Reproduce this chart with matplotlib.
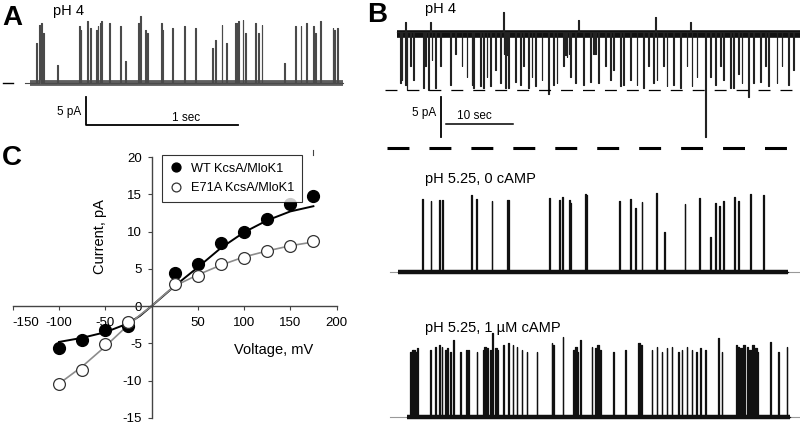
import numpy as np
import matplotlib
matplotlib.use('Agg')
import matplotlib.pyplot as plt

plt.rcParams['font.family'] = ['Liberation Sans', 'DejaVu Sans']
plt.rcParams['axes.unicode_minus'] = False
plt.rcParams['lines.scale_dashes'] = False

# ---------------- data ----------------
# Panel A: single channel openings at pH 4 (time in s, amplitude in pA)
a_times = [0.039, 0.061, 0.072, 0.083, 0.180, 0.322, 0.333, 0.377, 0.395, 0.434,
           0.445, 0.461, 0.467, 0.520, 0.592, 0.625, 0.713, 0.724, 0.757, 0.768,
           0.862, 0.871, 0.936, 1.015, 1.086, 1.200, 1.217, 1.261, 1.289, 1.349,
           1.360, 1.371, 1.399, 1.414, 1.480, 1.502, 1.524, 1.673, 1.743, 1.781,
           1.816, 1.864, 1.875, 1.908, 1.991, 2.002, 2.022]
a_amps = [7.1, 10.4, 10.8, 8.9, 3.3, 10.1, 9.5, 11.0, 9.8, 9.5,
          10.1, 10.7, 11.0, 10.7, 10.1, 3.9, 10.7, 11.9, 9.5, 8.9,
          10.7, 9.5, 9.8, 10.1, 9.8, 6.25, 7.7, 10.4, 7.1, 10.7,
          10.7, 11.0, 11.3, 8.9, 10.7, 8.9, 10.4, 3.6, 10.1, 10.1,
          10.7, 10.1, 8.9, 11.0, 9.8, 9.5, 9.8]
a_durs = [0.010, 0.010, 0.010, 0.010, 0.004, 0.005, 0.005, 0.005, 0.005, 0.005,
          0.005, 0.005, 0.005, 0.005, 0.005, 0.004, 0.007, 0.007, 0.007, 0.007,
          0.005, 0.005, 0.005, 0.005, 0.005, 0.004, 0.005, 0.005, 0.005, 0.005,
          0.005, 0.005, 0.005, 0.005, 0.005, 0.005, 0.005, 0.004, 0.005, 0.005,
          0.005, 0.005, 0.005, 0.005, 0.005, 0.005, 0.005]

# Panel B top: pH 4, long recording (openings point downward)
b1_times = [0.45, 0.70, 1.19, 1.44, 1.94, 2.44, 3.93, 4.18, 4.68, 5.17,
            5.67, 6.42, 7.91, 8.66, 9.65, 10.40, 11.14, 11.39, 12.39, 12.89,
            13.38, 13.88, 14.63, 15.37, 15.90, 16.12, 16.40, 16.62, 17.61, 18.36,
            18.86, 19.60, 20.10, 20.60, 21.59, 22.59, 23.33, 23.83, 24.83, 25.10,
            25.32, 25.60, 25.82, 26.57, 27.81, 28.81, 29.30, 29.55, 30.05, 31.04,
            31.79, 32.29, 33.28, 33.78, 34.78, 35.77, 36.77, 37.51, 38.26, 38.76,
            39.75, 40.25, 41.24, 42.24, 43.23, 43.98, 44.73, 45.97, 46.72, 47.46,
            48.21, 48.71, 49.70, 50.20, 50.95, 51.44, 52.44, 53.18, 54.18, 54.93,
            55.42, 56.67, 57.41, 58.41, 59.15]
b1_amps = [-6.4, -6.0, -6.6, -7.3, -4.3, -6.0, -7.0, -4.3, -7.3, -3.5,
           -7.0, -4.3, -6.6, -2.7, -4.3, -5.6, -6.6, -7.0, -6.8, -7.0,
           -5.6, -6.8, -4.8, -6.4, -2.7, -7.0, -2.9, -7.0, -6.2, -6.6,
           -4.3, -7.0, -5.6, -6.8, -6.0, -7.7, -6.6, -6.4, -4.3, -2.9,
           -3.1, -2.8, -5.6, -6.4, -6.6, -6.2, -2.7, -2.7, -6.4, -4.3,
           -6.0, -4.8, -6.8, -6.6, -6.0, -6.6, -7.0, -4.3, -6.4, -6.0,
           -4.3, -6.8, -6.6, -7.0, -4.3, -6.8, -5.6, -13.1, -5.6, -6.6,
           -4.3, -6.0, -7.0, -7.0, -5.2, -6.4, -8.1, -6.4, -6.2, -4.3,
           -6.8, -6.4, -4.3, -6.6, -4.8]
b1_up_times = [1.19, 4.93, 15.87, 27.06, 38.51, 43.73]
b1_up_amps = [1.3, 1.3, 2.5, 1.5, 1.9, 1.2]

# Panel B middle: pH 5.25, 0 cAMP
b2_times = [3.78, 5.02, 6.27, 6.67, 10.99, 11.79, 14.13, 16.47, 22.69, 24.23,
            24.68, 25.67, 25.87, 28.06, 28.16, 33.13, 34.78, 35.57, 36.52, 38.66,
            39.90, 42.94, 45.07, 46.72, 47.51, 48.11, 48.71, 50.35, 50.95, 52.74,
            54.58]
b2_amps = [9.04, 8.83, 8.96, 8.96, 9.58, 9.04, 8.83, 8.96, 9.17, 8.96,
           9.29, 8.96, 8.63, 9.71, 9.58, 8.83, 9.08, 7.92, 8.71, 9.88,
           5.0, 8.46, 9.17, 4.38, 8.63, 8.21, 8.83, 9.38, 8.83, 9.71,
           9.58]
b2_durs = [0.1, 0.1, 0.1, 0.15, 0.15, 0.2, 0.1, 0.25, 0.2, 0.1,
           0.1, 0.1, 0.1, 0.15, 0.15, 0.1, 0.2, 0.08, 0.1, 0.1,
           0.08, 0.1, 0.2, 0.08, 0.1, 0.1, 0.15, 0.1, 0.1, 0.1,
           0.25]

# Panel B bottom: pH 5.25, 1 uM cAMP
b3_times = [1.94, 2.19, 2.44, 2.69, 2.94, 4.93, 5.67, 6.32, 6.67, 7.16,
            7.41, 7.91, 8.41, 9.40, 10.30, 10.65, 11.89, 12.78, 13.03, 13.28,
            13.88, 14.23, 14.63, 14.88, 15.87, 16.62, 17.26, 17.86, 18.61, 19.35,
            20.85, 23.08, 23.33, 24.73, 26.32, 26.57, 26.82, 27.31, 29.05, 29.55,
            29.90, 30.20, 32.29, 34.03, 36.02, 36.27, 38.01, 38.76, 39.50, 40.25,
            40.99, 41.99, 42.49, 43.23, 43.98, 44.63, 45.22, 45.97, 47.96, 48.46,
            50.55, 50.80, 51.19, 51.69, 52.19, 52.59, 52.94, 53.43, 53.68, 55.67,
            56.92, 58.16]
b3_amps = [8.13, 8.33, 8.33, 8.13, 8.54, 8.33, 8.75, 8.96, 8.75, 8.33,
           8.54, 8.13, 9.58, 8.13, 8.33, 8.33, 8.13, 8.33, 8.75, 8.54,
           8.33, 10.42, 8.54, 8.33, 8.96, 9.17, 8.96, 8.75, 8.33, 8.13,
           8.13, 9.17, 8.96, 10.0, 8.33, 8.75, 8.13, 9.58, 8.75, 8.54,
           8.96, 8.33, 8.13, 8.33, 9.17, 8.96, 8.33, 8.75, 8.13, 8.54,
           8.75, 8.13, 8.33, 8.75, 8.33, 8.13, 8.54, 8.33, 9.79, 8.13,
           8.96, 8.75, 8.54, 8.96, 8.75, 8.33, 8.96, 8.54, 8.13, 9.38,
           8.13, 8.75]
b3_durs = [0.26, 0.26, 0.26, 0.26, 0.2, 0.1, 0.1, 0.15, 0.1, 0.26,
           0.2, 0.1, 0.1, 0.1, 0.1, 0.1, 0.1, 0.26, 0.26, 0.26,
           0.1, 0.08, 0.26, 0.2, 0.1, 0.1, 0.1, 0.1, 0.1, 0.1,
           0.1, 0.1, 0.1, 0.1, 0.26, 0.26, 0.2, 0.1, 0.1, 0.26,
           0.3, 0.26, 0.1, 0.1, 0.26, 0.26, 0.1, 0.1, 0.1, 0.1,
           0.1, 0.1, 0.1, 0.1, 0.1, 0.1, 0.1, 0.1, 0.1, 0.1,
           0.26, 0.26, 0.3, 0.3, 0.26, 0.26, 0.3, 0.26, 0.2, 0.1,
           0.1, 0.1]

# Panel C: I-V relations
voltage = [-100, -75, -50, -25, 25, 50, 75, 100, 125, 150, 175]
wt_current = [-5.6, -4.6, -3.2, -2.6, 4.4, 5.6, 8.5, 10.0, 11.7, 13.7, 14.8]
e71a_current = [-10.5, -8.6, -5.1, -2.1, 3.0, 4.1, 5.6, 6.5, 7.4, 8.0, 8.7]
fit_v = [-100, -75, -50, -25, -12.5, 0, 12.5, 25, 50, 75, 100, 125, 150, 175]
wt_fit = [-4.8, -4.25, -3.5, -2.3, -1.3, 0.0, 1.35, 2.7, 5.2, 7.8, 9.9, 11.5, 12.7, 13.4]
e71a_fit = [-10.4, -8.1, -5.4, -2.5, -1.2, 0.0, 1.4, 2.7, 4.2, 5.5, 6.6, 7.4, 8.1, 8.6]

W, H = 800, 428
fig = plt.figure(figsize=(W / 100, H / 100), dpi=100)


def px_axes(x0, y0, x1, y1):
    ax = fig.add_axes([x0 / W, 1 - y1 / H, (x1 - x0) / W, (y1 - y0) / H])
    ax.set_axis_off()
    return ax


def fx(px):
    return px / W


def fy(py):
    return 1 - py / H


def step_trace(times, amps, durs, t0, t1):
    xs, ys = [t0], [0.0]
    for t, a, d in sorted(zip(times, amps, durs)):
        xs += [t, t, t + d, t + d]
        ys += [0.0, a, a, 0.0]
    xs.append(t1)
    ys.append(0.0)
    return np.array(xs), np.array(ys)


def draw_trace(ax, xs, ys, color, lw):
    ax.fill_between(xs, 0, ys, color=color, lw=0, clip_on=False)
    ax.plot(xs, ys, color=color, lw=lw, clip_on=False)


# ---------------- Panel A ----------------
axA = px_axes(30, 0, 343, 135)
axA.set_xlim(0, 313 / 152)
axA.set_ylim(-52 / 5.6, 83 / 5.6)
xa, ya = step_trace(a_times, a_amps, a_durs, -0.03, 2.06)
axA.plot([-0.03, 2.06], [0, 0], color='#5f5f5f', lw=4.2, solid_capstyle='butt')
draw_trace(axA, xa, ya, '#4a4a4a', 0.8)
axA.plot([-0.178, -0.11], [0, 0], color='black', lw=1.0, clip_on=False)
# scale bar: 5 pA, 1 sec
axA.plot([0.368, 0.368, 1.368], [-2.5, -7.5, -7.5], color='black', lw=1.3,
         clip_on=False)
fig.text(fx(2), fy(25), 'A', fontsize=20, fontweight='bold', va='baseline')
fig.text(fx(53), fy(15), 'pH 4', fontsize=10.5, va='baseline')
fig.text(fx(81), fy(115), '5 pA', fontsize=8.5, va='baseline', ha='right')
fig.text(fx(186), fy(121), '1 sec', fontsize=8.5, va='baseline', ha='center')

# ---------------- Panel B top ----------------
axB1 = px_axes(397, 0, 800, 150)
axB1.set_xlim(0, 403 / 6.7)
axB1.set_ylim(-118 / 8, 32 / 8)
xb, yb = step_trace(b1_times, b1_amps, [0.1] * len(b1_times), 0, 60.1)
xu, yu = step_trace(b1_up_times, b1_up_amps, [0.08] * len(b1_up_times), 0, 60.1)
axB1.plot([0, 60.1], [-0.2, -0.2], color='#111111', lw=5.5, solid_capstyle='butt')
draw_trace(axB1, xb, yb, '#222222', 0.8)
draw_trace(axB1, xu, yu, '#222222', 0.8)
axB1.plot([-1.8, 60.15], [-7.2, -7.2], color='black', lw=0.9,
          dashes=(8.6, 7.2), clip_on=False)
# scale bar: 5 pA, 10 sec
axB1.plot([6.57, 6.57], [-8.1, -13.1], color='black', lw=1.3, clip_on=False)
axB1.plot([7.31, 17.31], [-11.5, -11.5], color='black', lw=1.1, clip_on=False)
axB1.plot([-1.5, 60.15], [-14.5, -14.5], color='black', lw=2.2,
          dashes=(15.8, 14.4), clip_on=False)
fig.text(fx(367), fy(22), 'B', fontsize=20, fontweight='bold', va='baseline')
fig.text(fx(425), fy(13), 'pH 4', fontsize=10.5, va='baseline')
fig.text(fx(436), fy(116), '5 pA', fontsize=8.5, va='baseline', ha='right')
fig.text(fx(474), fy(119), '10 sec', fontsize=8.5, va='baseline', ha='center')

# ---------------- Panel B middle ----------------
axB2 = px_axes(397, 150, 800, 290)
axB2.set_xlim(0, 403 / 6.7)
axB2.set_ylim(-18.3 / 8, 121.7 / 8)
xm, ym = step_trace(b2_times, b2_amps, b2_durs, 0.2, 58.4)
axB2.plot([-1.05, 60.15], [0, 0], color='#999999', lw=0.8, clip_on=False)
axB2.plot([0.2, 58.4], [0, 0], color='#111111', lw=3.2, solid_capstyle='butt')
draw_trace(axB2, xm, ym, '#111111', 0.9)
fig.text(fx(425), fy(183), 'pH 5.25, 0 cAMP', fontsize=10.5, va='baseline')

# ---------------- Panel B bottom ----------------
axB3 = px_axes(397, 290, 800, 428)
axB3.set_xlim(0, 403 / 6.7)
axB3.set_ylim(-11.3 / 8, 126.7 / 8)
xl, yl = step_trace(b3_times, b3_amps, b3_durs, 1.44, 58.66)
axB3.plot([-1.05, 60.15], [0, 0], color='#999999', lw=0.8, clip_on=False)
axB3.plot([1.44, 58.66], [0, 0], color='#111111', lw=3.2, solid_capstyle='butt')
draw_trace(axB3, xl, yl, '#111111', 0.9)
fig.text(fx(425), fy(332), 'pH 5.25, 1 \u00b5M cAMP', fontsize=10.5, va='baseline')

# ---------------- Panel C ----------------
axC = fig.add_axes([12.8 / W, 1 - 418 / H, 323.7 / W, 261 / H])
axC.set_xlim(-150, 200)
axC.set_ylim(-15, 20)
for side in ['top', 'right']:
    axC.spines[side].set_visible(False)
for side in ['left', 'bottom']:
    axC.spines[side].set_position(('data', 0))
    axC.spines[side].set_color('#444444')
    axC.spines[side].set_linewidth(1.0)
axC.patch.set_alpha(0)
axC.set_xticks([-150, -100, -50, 50, 100, 150, 200])
axC.set_yticks([-15, -10, -5, 0, 5, 10, 15, 20])
axC.tick_params(axis='both', direction='out', length=3, width=0.8,
                colors='#444444', labelcolor='black', labelsize=9.5)
axC.tick_params(axis='x', pad=5)
axC.tick_params(axis='y', pad=4)
axC.get_xticklabels()[0].set_horizontalalignment('left')

axC.plot(fit_v, wt_fit, color='black', lw=1.4, zorder=2)
axC.plot(fit_v, e71a_fit, color='#8c8c8c', lw=1.2, zorder=2)
axC.plot(voltage, wt_current, 'o', color='black', ms=8.5, mec='black',
         label='WT KcsA/MloK1', zorder=3, clip_on=False)
axC.plot(voltage, e71a_current, 'o', mfc='white', mec='#333333', mew=0.9,
         ms=8.5, label='E71A KcsA/MloK1', zorder=3, clip_on=False)
axC.plot([175, 175], [20.3, 21.0], color='#444444', lw=0.8, clip_on=False)

leg = axC.legend(loc='upper left', bbox_to_anchor=(0.461, 1.008),
                 borderaxespad=0, fontsize=9.2, frameon=True, fancybox=False,
                 edgecolor='black', handlelength=1.0, handletextpad=0.7,
                 borderpad=0.6, labelspacing=0.6, numpoints=1,
                 markerscale=0.75)
leg.get_frame().set_linewidth(0.8)

fig.text(fx(100), fy(237), 'Current, pA', fontsize=10.5, rotation=90,
         ha='center', va='center')
fig.text(fx(274), fy(350), 'Voltage, mV', fontsize=10.5, ha='center',
         va='center')
fig.text(fx(2), fy(165), 'C', fontsize=20, fontweight='bold', va='baseline')

fig.savefig('out.png', dpi=100)
